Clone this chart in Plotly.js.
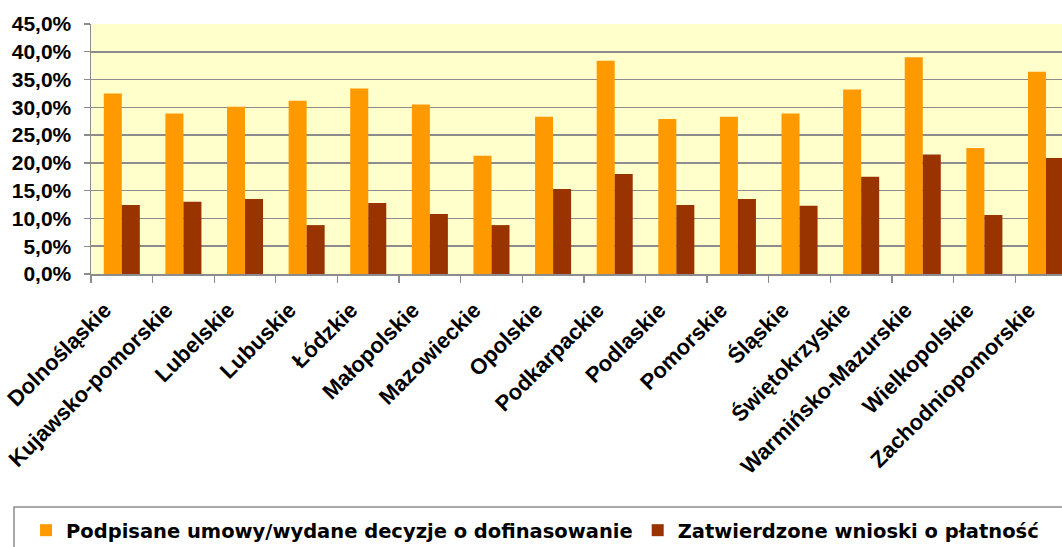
<!DOCTYPE html>
<html>
<head>
<meta charset="utf-8">
<script src="https://cdn.plot.ly/plotly-3.0.1.min.js"></script>
<style>
html,body{margin:0;padding:0;background:#fff;overflow:hidden;}
#chart{width:1062px;height:547px;}
</style>
</head>
<body>
<div id="chart"></div>
<script>
const regions = ["Dolnośląskie","Kujawsko-pomorskie","Lubelskie","Lubuskie","Łódzkie","Małopolskie","Mazowieckie","Opolskie","Podkarpackie","Podlaskie","Pomorskie","Śląskie","Świętokrzyskie","Warmińsko-Mazurskie","Wielkopolskie","Zachodniopomorskie"];
const signedContracts = [32.5,28.9,30.1,31.2,33.4,30.5,21.3,28.3,38.4,27.9,28.3,28.9,33.2,39.0,22.7,36.4];
const approvedPayments = [12.4,13.0,13.5,8.8,12.8,10.8,8.8,15.3,18.0,12.4,13.5,12.3,17.5,21.5,10.6,20.9];
const seriesNames = ["Podpisane umowy/wydane decyzje o dofinasowanie","Zatwierdzone wnioski o płatność"];
const yTickVals = [0,5,10,15,20,25,30,35,40,45];
const yTickText = ["0,0%","5,0%","10,0%","15,0%","20,0%","25,0%","30,0%","35,0%","40,0%","45,0%"];

const traces = [
  {type:'bar', name:seriesNames[0], x:regions, y:signedContracts, marker:{color:'#FF9900'}, hoverinfo:'x+y'},
  {type:'bar', name:seriesNames[1], x:regions, y:approvedPayments, marker:{color:'#993300'}, hoverinfo:'x+y'}
];

const layout = {
  width:1062, height:547,
  margin:{l:91, r:0, t:24, b:273, pad:0, autoexpand:false},
  paper_bgcolor:'#ffffff',
  plot_bgcolor:'#FFFFCC',
  barmode:'group',
  bargap:0.415,
  bargroupgap:0,
  showlegend:true,
  legend:{
    orientation:'h',
    x:-0.0669, xanchor:'left', y:-0.948, yanchor:'top',
    font:{family:'DejaVu Sans, sans-serif', size:19.5, weight:'bold', color:'#000'},
    bgcolor:'rgba(0,0,0,0)', borderwidth:0, itemwidth:30, tracegroupgap:0
  },
  xaxis:{
    type:'category',
    range:[-0.5, 15.26],
    tickangle:-45,
    automargin:false,
    tickfont:{family:'Liberation Sans, Arial, sans-serif', size:22, weight:'bold', color:'#000'},
    ticks:'outside', tickson:'boundaries', ticklen:7, tickcolor:'#8c8c8c', tickwidth:1.3,
    ticklabelstandoff:13, ticklabelshift:-17,
    showline:true, linecolor:'#8c8c8c', linewidth:1.5,
    showgrid:false, zeroline:false, fixedrange:true
  },
  yaxis:{
    range:[0,45],
    automargin:false,
    tickmode:'array',
    tickvals:yTickVals,
    ticktext:yTickText,
    tickfont:{family:'Liberation Sans, Arial, sans-serif', size:21, weight:'bold', color:'#000'},
    ticks:'outside', ticklen:6, tickcolor:'#8c8c8c', tickwidth:1.3,
    ticklabelstandoff:8,
    showline:true, linecolor:'#8c8c8c', linewidth:1.5,
    showgrid:true, gridcolor:'#8c8c8c', gridwidth:1.5,
    zeroline:false, fixedrange:true
  },
  shapes:[
    {type:'rect', xref:'paper', yref:'paper', x0:-0.0793, x1:1.05, y0:-0.932, y1:-1.2,
     line:{color:'#8c8c8c', width:1.5}, fillcolor:'rgba(0,0,0,0)', layer:'below'}
  ]
};

Plotly.newPlot('chart', traces, layout, {displayModeBar:false, staticPlot:true});
</script>
</body>
</html>
